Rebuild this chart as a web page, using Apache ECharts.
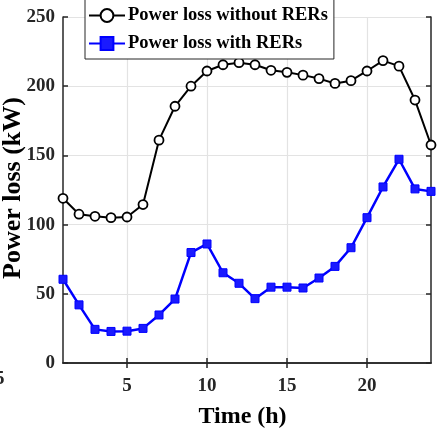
<!DOCTYPE html>
<html>
<head>
<meta charset="utf-8">
<script src="https://cdn.jsdelivr.net/npm/echarts@6/dist/echarts.min.js"></script>
<style>html,body{margin:0;padding:0;background:#fff}#c{width:438px;height:435px}</style>
</head>
<body>
<div id="c"></div>
<script>
var hours = [1,2,3,4,5,6,7,8,9,10,11,12,13,14,15,16,17,18,19,20,21,22,23,24];
var lossWithout = [119,107.5,106,105,105.5,114.5,161,185.5,200,211,215.5,217,215.5,211.5,210,208,205.5,202,204,211,218.5,214.5,190,157.5];
var lossWith = [60.5,42,24.3,22.8,23,25,34.7,46.2,79.8,86,65.2,57.6,46.5,54.8,54.8,54.2,61.4,69.8,83.3,105,127.2,147.2,125.8,124];
var xTicks = [5,10,15,20];
var yTickMin = 0, yTickMax = 250, yTickStep = 50;
var names = ['Power loss without RERs','Power loss with RERs'];

var font = 'Liberation Serif';
var dark = '#262626';
var chart = echarts.init(document.getElementById('c'), null, {renderer:'canvas'});
function pairs(v){ return hours.map(function(h,i){ return [h, v[i]]; }); }
chart.setOption({
  animation:false,
  backgroundColor:'#fff',
  grid:{left:63,right:7,top:17,bottom:72,containLabel:false,outerBoundsMode:'none'},
  legend:{
    orient:'vertical', left:85, top:-2,
    backgroundColor:'#fff', borderColor:dark, borderWidth:1,
    padding:[8,6,6,3], itemGap:9, itemWidth:36, itemHeight:16,
    textStyle:{fontFamily:font, fontWeight:'bold', fontSize:18.5, color:'#000', padding:[0,0,0,-2]},
    data:names
  },
  xAxis:[{
    type:'value', min:1, max:24,
    name:'Time (h)', nameLocation:'middle', nameGap:42, nameMoveOverlap:false,
    nameTextStyle:{fontFamily:font, fontWeight:'bold', fontSize:24, color:'#000', padding:[0,9,0,0]},
    axisLine:{show:true, lineStyle:{color:dark, width:1.5}},
    axisTick:{show:true, inside:true, length:5, customValues:xTicks, lineStyle:{color:dark, width:1.5}},
    axisLabel:{customValues:xTicks, fontFamily:font, fontWeight:'bold', fontSize:19, color:dark, margin:14},
    splitLine:{show:true, lineStyle:{color:'#e3e3e3', width:1.2}}
  },{
    type:'value', min:1, max:24, position:'top',
    axisLine:{show:true, lineStyle:{color:dark, width:1.5}},
    axisTick:{show:true, inside:true, length:5, customValues:xTicks, lineStyle:{color:dark, width:1.5}},
    axisLabel:{show:false}, splitLine:{show:false}
  }],
  yAxis:[{
    type:'value', min:yTickMin, max:yTickMax, interval:yTickStep,
    name:'Power loss (kW)', nameLocation:'middle', nameGap:37, nameMoveOverlap:false,
    nameTextStyle:{fontFamily:font, fontWeight:'bold', fontSize:26, color:'#000', padding:[0,0,0,4]},
    axisLine:{show:true, lineStyle:{color:dark, width:1.5}},
    axisTick:{show:true, inside:true, length:5, lineStyle:{color:dark, width:1.5}},
    axisLabel:{fontFamily:font, fontWeight:'bold', fontSize:19, color:dark, margin:8},
    splitLine:{show:true, lineStyle:{color:'#e3e3e3', width:1.2}}
  },{
    type:'value', min:yTickMin, max:yTickMax, interval:yTickStep, position:'right',
    axisLine:{show:true, lineStyle:{color:dark, width:1.5}},
    axisTick:{show:true, inside:true, length:5, lineStyle:{color:dark, width:1.5}},
    axisLabel:{show:false}, splitLine:{show:false}
  }],
  series:[{
    name:names[0], type:'line', data:pairs(lossWithout),
    symbol:'circle', symbolSize:9, showAllSymbol:true,
    lineStyle:{color:'#000', width:2},
    itemStyle:{color:'#fff', borderColor:'#000', borderWidth:1.8}
  },{
    name:names[1], type:'line', data:pairs(lossWith),
    symbol:'rect', symbolSize:8, showAllSymbol:true,
    lineStyle:{color:'#0000ff', width:2.5},
    itemStyle:{color:'#1a1aff', borderColor:'#0000ff', borderWidth:1}
  }],
  graphic:[{type:'text', left:-5, top:370, style:{text:'5', font:'bold 19px "Liberation Serif"', fill:dark}}]
});
</script>
</body>
</html>
